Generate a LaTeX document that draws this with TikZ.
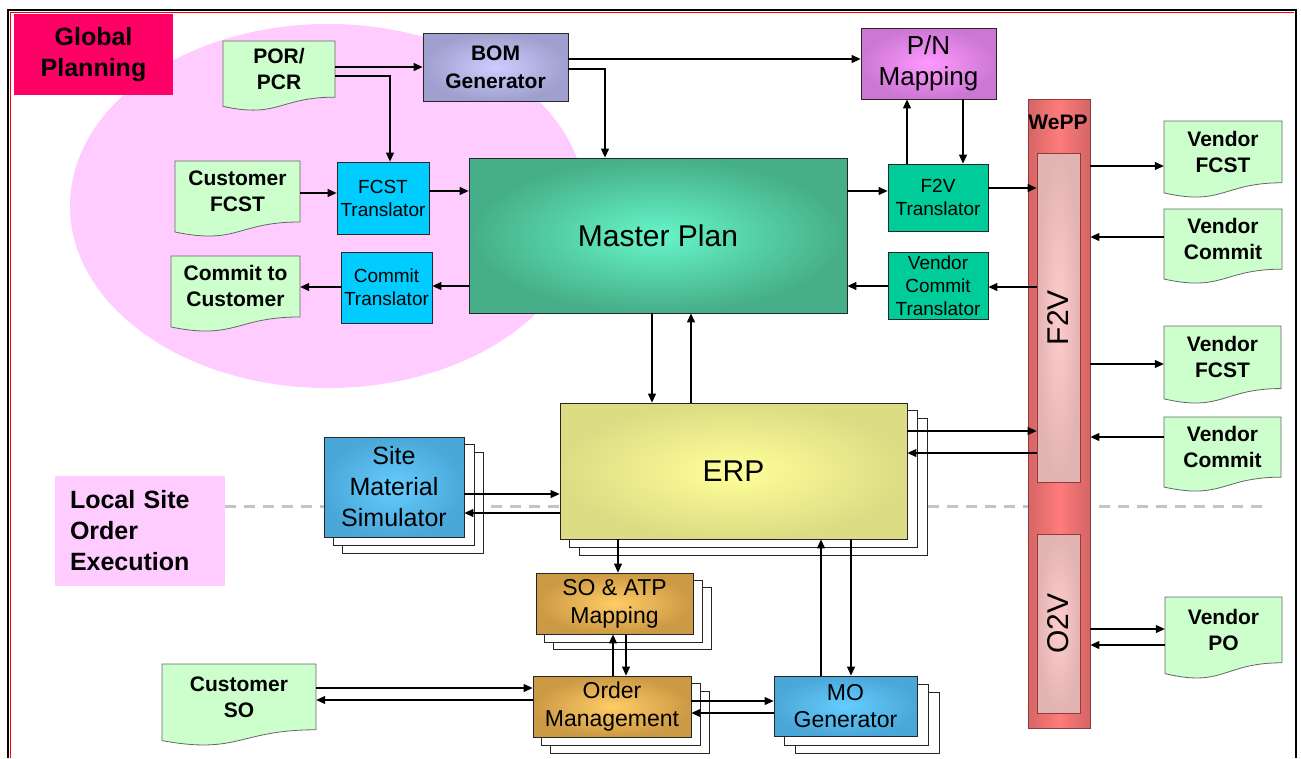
\documentclass[tikz,border=0pt]{standalone}
\usepackage{fontspec}
\setmainfont{Liberation Sans}
\usetikzlibrary{arrows.meta}
\pgfdeclarelayer{bg}
\pgfdeclarelayer{shd}
\pgfsetlayers{bg,shd,main}

% palette
\definecolor{globred}{HTML}{FF0066}
\definecolor{pinkfill}{HTML}{FFCCFF}
\definecolor{docgreen}{HTML}{CCFFCC}
\definecolor{cyanbox}{HTML}{00CCFF}
\definecolor{tealbox}{HTML}{00CC99}
\definecolor{mpin}{HTML}{66F5C8}
\definecolor{mpout}{HTML}{46AE88}
\definecolor{erpin}{HTML}{FFFF99}
\definecolor{erpout}{HTML}{DCDC84}
\definecolor{bomin}{HTML}{CCCCFF}
\definecolor{bomout}{HTML}{A0A0CE}
\definecolor{pnin}{HTML}{FF99FF}
\definecolor{pnout}{HTML}{CC77D4}
\definecolor{bluein}{HTML}{66CCFF}
\definecolor{blueout}{HTML}{4AA8D8}
\definecolor{orin}{HTML}{FFCC66}
\definecolor{orout}{HTML}{CC9944}
\definecolor{weppmid}{HTML}{FF7B7B}
\definecolor{weppedge}{HTML}{D46565}
\definecolor{weppline}{HTML}{8E3B3B}
\definecolor{innermid}{HTML}{FFCCCC}
\definecolor{inneredge}{HTML}{E2B3B3}
\definecolor{dashgray}{HTML}{C4C4C4}

\newcommand{\fs}[2]{\fontsize{#1}{#2}\selectfont}

% document symbol: name, left, top, right, full height, text
\newcommand{\docshape}[6]{%
  \pgfmathsetmacro{\dW}{#4-#2}%
  \pgfmathsetmacro{\dM}{(#2+#4)/2}%
  \pgfmathsetmacro{\dA}{#3+0.802*#5}%
  \pgfmathsetmacro{\dB}{#3+1.1075*#5}%
  \pgfmathsetmacro{\dC}{#3+0.934*#5}%
  \pgfmathsetmacro{\dY}{#3+0.401*#5}%
  \pgfmathsetmacro{\dH}{0.802*#5}%
  \filldraw[doc] (#2,#3) -- (#4,#3) -- (#4,\dA)
    .. controls (\dM,\dA) and (\dM,\dB) .. (#2,\dC) -- cycle;
  \node[doctext, minimum width=\dW pt, minimum height=\dH pt] (#1) at (\dM,\dY) {#6};
}

% two stacked copies behind a box: node, dx, dy
\newcommand{\stackshadow}[3]{%
  \begin{pgfonlayer}{shd}
    \pgfmathsetmacro{\sxa}{2*#2}\pgfmathsetmacro{\sya}{2*#3}%
    \filldraw[shadowbox] ([shift={(\sxa,\sya)}]#1.north west) rectangle ([shift={(\sxa,\sya)}]#1.south east);
    \filldraw[shadowbox] ([shift={(#2,#3)}]#1.north west) rectangle ([shift={(#2,#3)}]#1.south east);
  \end{pgfonlayer}}

\begin{document}
\begin{tikzpicture}[x=1pt,y=-1pt,
  box/.style={draw=black!85, line width=0.8pt, inner sep=0pt, align=center, font=\fs{19}{23}},
  bigbox/.style={box, font=\fs{30}{34}},
  midbox/.style={box, font=\fs{23}{28}},
  doc/.style={fill=docgreen, draw=black!60, line width=0.8pt},
  doctext/.style={inner sep=0pt, align=center, font=\bfseries\fs{21}{26}},
  shadowbox/.style={fill=white, draw=black!85, line width=0.8pt},
  arr/.style={line width=1.1pt, -{Triangle[length=9pt,width=8pt]}},
  title/.style={inner sep=0pt, font=\bfseries\fs{25}{31}},
]
\path[use as bounding box] (0,0) rectangle (1301,758);

% page, planning area
\begin{pgfonlayer}{bg}
  \fill[white] (0,0) rectangle (1301,758);
  \fill[pinkfill] (328,206) ellipse [x radius=258, y radius=182];
\end{pgfonlayer}

% section titles
\node[title, fill=globred, minimum width=159pt, minimum height=81pt, align=center] (glob) at (93.5,54.5) {Global\\Planning};
\node[title, fill=pinkfill, minimum width=170pt, minimum height=110pt, align=left, text width=140pt] (loc) at (140,531) {Local Site\\Order\\Execution};
\coordinate (dashend) at (1268,506);
\begin{pgfonlayer}{bg}
  \draw[dashgray, line width=3pt, dash pattern=on 11pt off 8pt] (loc.east |- dashend) -- (dashend);
\end{pgfonlayer}

% documents
\docshape{por}{223}{41}{335}{70}{POR/\\PCR}
\docshape{cfcst}{175}{161}{300}{76}{Customer\\FCST}
\docshape{ctc}{171}{256}{300}{76}{Commit to\\Customer}
\docshape{vfa}{1164}{121}{1282}{77}{Vendor\\FCST}
\docshape{vca}{1164}{209}{1282}{75}{Vendor\\Commit}
\docshape{vfb}{1164}{326}{1281}{78}{Vendor\\FCST}
\docshape{vcb}{1164}{417}{1281}{75}{Vendor\\Commit}
\docshape{vpo}{1165}{597}{1282}{82}{Vendor\\PO}
\docshape{cso}{162}{664}{316}{82}{Customer\\SO}

% global planning boxes
\node[box, inner color=bomin, outer color=bomout, minimum width=145pt, minimum height=68pt, font=\bfseries\fs{21}{28}] (bom) at (495.5,67) {BOM\\Generator};
\node[box, inner color=pnin, outer color=pnout, minimum width=135pt, minimum height=71pt, font=\fs{26}{31}] (pn) at (928.5,63.5) {P/N\\Mapping};
\node[box, fill=cyanbox, minimum width=92pt, minimum height=72pt] (fcstT) at (383,198) {FCST\\Translator};
\node[box, fill=cyanbox, minimum width=91pt, minimum height=71pt] (cT) at (386.5,287.5) {Commit\\Translator};
\node[bigbox, inner color=mpin, outer color=mpout, minimum width=378pt, minimum height=155pt] (mp) at (658,235.5) {Master Plan};
\node[box, fill=tealbox, minimum width=100pt, minimum height=67pt] (f2vT) at (938,197.5) {F2V\\Translator};
\node[box, fill=tealbox, minimum width=100pt, minimum height=67pt] (vcT) at (938,285.5) {Vendor\\Commit\\Translator};

% WePP column
\node[draw=weppline, line width=0.8pt, left color=weppedge, right color=weppedge, middle color=weppmid, minimum width=62pt, minimum height=629pt, inner sep=0pt] (wepp) at (1059,413.5) {};
\node[inner sep=0pt, font=\bfseries\fs{21}{21}] (wepptxt) at (1058,122) {WePP};
\node[draw=weppline, line width=0.8pt, inner color=innermid, outer color=inneredge, minimum width=43pt, minimum height=329pt, inner sep=0pt] (f2v) at (1058.5,317.5) {};
\node[draw=weppline, line width=0.8pt, inner color=innermid, outer color=inneredge, minimum width=43pt, minimum height=179pt, inner sep=0pt] (o2v) at (1058.5,623.5) {};
\node[inner sep=0pt, rotate=90, font=\fs{30}{30}] (f2vtxt) at (f2v.center) {F2V};
\node[inner sep=0pt, rotate=90, font=\fs{30}{30}] (o2vtxt) at (o2v.center) {O2V};

% local site boxes
\node[bigbox, inner color=erpin, outer color=erpout, minimum width=347pt, minimum height=136pt] (erp) at (733.5,471) {ERP};
\stackshadow{erp}{10}{8}
\node[box, inner color=bluein, outer color=blueout, minimum width=140pt, minimum height=100pt, font=\fs{25}{31}] (sms) at (394,487) {Site\\Material\\Simulator};
\stackshadow{sms}{9.5}{8}
\node[midbox, inner color=orin, outer color=orout, minimum width=157pt, minimum height=61pt] (soatp) at (614.5,603.5) {SO \& ATP\\Mapping};
\stackshadow{soatp}{9}{7.5}
\node[midbox, inner color=orin, outer color=orout, minimum width=158pt, minimum height=61pt] (om) at (612,706.5) {Order\\Management};
\stackshadow{om}{9}{8}
\node[midbox, inner color=bluein, outer color=blueout, minimum width=143pt, minimum height=60pt, font=\fs{23}{27}] (mo) at (845.5,706) {MO\\Generator};
\stackshadow{mo}{11}{8.5}

% global planning flows
\draw[arr] (por.east |- 0,67) -- (bom.west |- 0,67);
\draw[arr] (por.east |- 0,76) -| (fcstT.north -| 390,0);
\draw[arr] (bom.east |- 0,59) -- (pn.west |- 0,59);
\draw[arr] (bom.east |- 0,69) -| (mp.north -| 605,0);
\draw[arr] (cfcst.east |- 0,193) -- (fcstT.west |- 0,193);
\draw[arr] (fcstT.east |- 0,191) -- (mp.west |- 0,191);
\draw[arr] (mp.west |- 0,286) -- (cT.east |- 0,286);
\draw[arr] (cT.west |- 0,287) -- (ctc.east |- 0,287);
\draw[arr] (mp.east |- 0,191) -- (f2vT.west |- 0,191);
\draw[arr] (f2vT.north -| 907,0) -- (pn.south -| 907,0);
\draw[arr] (pn.south -| 963,0) -- (f2vT.north -| 963,0);
\draw[arr] (f2vT.east |- 0,188) -- (f2v.west |- 0,188);
\draw[arr] (f2v.west |- 0,287) -- (vcT.east |- 0,287);
\draw[arr] (vcT.west |- 0,286) -- (mp.east |- 0,286);

% vendor exchange
\draw[arr] (wepp.east |- 0,166) -- (vfa.west |- 0,166);
\draw[arr] (vca.west |- 0,237) -- (wepp.east |- 0,237);
\draw[arr] (wepp.east |- 0,364) -- (vfb.west |- 0,364);
\draw[arr] (vcb.west |- 0,437) -- (wepp.east |- 0,437);
\draw[arr] (wepp.east |- 0,629) -- (vpo.west |- 0,629);
\draw[arr] (vpo.west |- 0,645) -- (wepp.east |- 0,645);

% plan and execution
\draw[arr] (mp.south -| 652,0) -- (erp.north -| 652,0);
\draw[arr] (erp.north -| 691,0) -- (mp.south -| 691,0);
\draw[arr] (erp.east |- 0,431) -- (f2v.west |- 0,431);
\draw[arr] (f2v.west |- 0,453) -- (erp.east |- 0,453);
\draw[arr] (sms.east |- 0,494) -- (erp.west |- 0,494);
\draw[arr] (erp.west |- 0,513) -- (sms.east |- 0,513);
\draw[arr] (erp.south -| 618,0) -- (soatp.north -| 618,0);
\draw[arr] (om.north -| 613,0) -- (soatp.south -| 613,0);
\draw[arr] (soatp.south -| 626,0) -- (om.north -| 626,0);
\draw[arr] (cso.east |- 0,688) -- (om.west |- 0,688);
\draw[arr] (om.west |- 0,700) -- (cso.east |- 0,700);
\draw[arr] (om.east |- 0,701) -- (mo.west |- 0,701);
\draw[arr] (mo.west |- 0,713) -- (om.east |- 0,713);
\draw[arr] (mo.north -| 821,0) -- (erp.south -| 821,0);
\draw[arr] (erp.south -| 851,0) -- (mo.north -| 851,0);

% frame
\draw[red, line width=0.8pt] (10,758) -- (10,12) -- (1294,12);
\draw[black, line width=2pt] (8,758) -- (8,10) -- (1296,10) -- (1296,758);
\end{tikzpicture}
\end{document}
